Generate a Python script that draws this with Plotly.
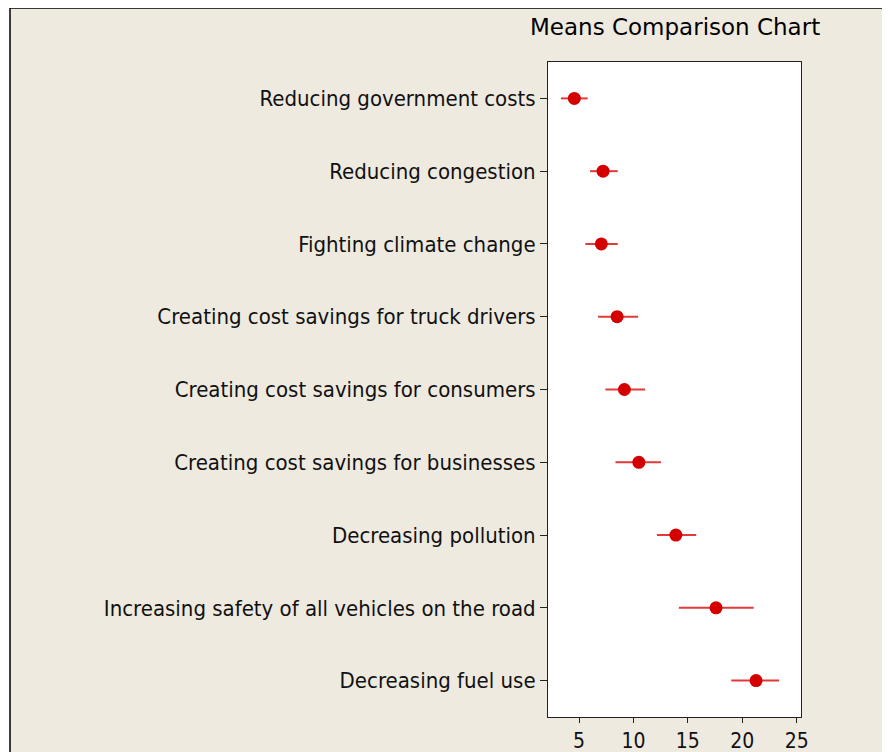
import plotly.graph_objects as go

categories = [
    "Reducing government costs",
    "Reducing congestion",
    "Fighting climate change",
    "Creating cost savings for truck drivers",
    "Creating cost savings for consumers",
    "Creating cost savings for businesses",
    "Decreasing pollution",
    "Increasing safety of all vehicles on the road",
    "Decreasing fuel use",
]
means = [4.57, 7.21, 7.05, 8.50, 9.17, 10.50, 13.90, 17.59, 21.27]
lower = [3.34, 6.01, 5.58, 6.75, 7.42, 8.35, 12.16, 14.18, 18.99]
upper = [5.80, 8.56, 8.56, 10.43, 11.08, 12.53, 15.77, 21.05, 23.39]
x_ticks = [5, 10, 15, 20, 25]

OFF = 8  # page body margin
W, H = 890 - OFF, 752 - OFF
L, R, T, B = 548 - OFF, 801 - OFF, 62 - OFF, 717 - OFF
pw, ph = R - L, B - T

def px(x):
    return (x - OFF - L) / pw

def py(y):
    return (B - (y - OFF)) / ph

BEIGE = "#EEEAE0"
FONT = "DejaVu Sans Condensed, DejaVu Sans"

ypos = list(range(len(categories)))

fig = go.Figure()
fig.add_trace(go.Scatter(
    x=means, y=ypos, mode="markers",
    marker=dict(color="#D40000", size=13),
    error_x=dict(
        type="data", symmetric=False,
        array=[u - m for u, m in zip(upper, means)],
        arrayminus=[m - l for m, l in zip(means, lower)],
        color="#E03A3A", thickness=2, width=0,
    ),
    showlegend=False,
))

fig.update_layout(
    width=W, height=H,
    margin=dict(l=L, r=W - R, t=T, b=H - B, pad=0, autoexpand=False),
    paper_bgcolor="white",
    plot_bgcolor="white",
    font=dict(family=FONT, color="#111111", size=22),
    xaxis=dict(
        range=[2.15, 25.4], tickvals=x_ticks, ticktext=[str(v) for v in x_ticks],
        ticks="outside", ticklen=5, tickcolor="#222", tickwidth=1,
        showline=True, linecolor="#222", linewidth=1, mirror=True,
        showgrid=False, zeroline=False, tickfont=dict(size=21),
        automargin=False,
    ),
    yaxis=dict(
        range=[8.5, -0.5], tickvals=ypos, ticktext=categories,
        ticks="outside", ticklen=7, tickcolor="#222", tickwidth=1,
        showline=True, linecolor="#222", linewidth=1, mirror=True,
        showgrid=False, zeroline=False, tickfont=dict(size=22),
        automargin=False,
    ),
    shapes=[
        dict(type="rect", xref="paper", yref="paper", layer="below",
             x0=px(10), x1=px(900), y0=py(770), y1=py(8),
             fillcolor=BEIGE, line=dict(color="black", width=1.5)),
        dict(type="rect", xref="paper", yref="paper", layer="below",
             x0=0, x1=1, y0=0, y1=1,
             fillcolor="white", line=dict(width=0)),
    ],
    annotations=[
        dict(text="Means Comparison Chart", xref="paper", yref="paper",
             x=0.5, y=py(27), xanchor="center", yanchor="middle",
             showarrow=False, font=dict(size=23, color="black", family="DejaVu Sans")),
    ],
)

fig.write_html("out.html")
